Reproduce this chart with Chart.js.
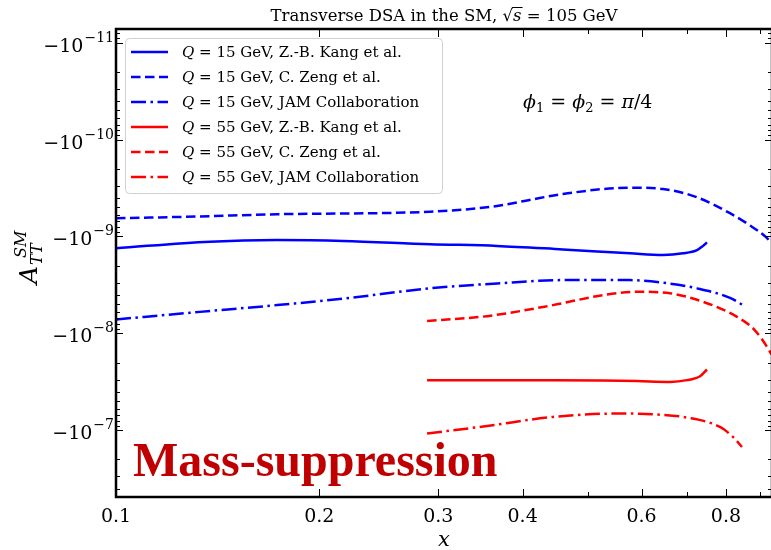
<!DOCTYPE html>
<html>
<head>
<meta charset="utf-8">
<script src="https://cdn.jsdelivr.net/npm/chart.js@4.4.1/dist/chart.umd.min.js"></script>
<style>
html, body { margin: 0; padding: 0; background: #fff; overflow: hidden; }
#wrap { width: 774px; height: 550px; }
</style>
</head>
<body>
<div id="wrap"><canvas id="chart" width="774" height="550"></canvas></div>
<script>
// Values (A_TT^SM is negative everywhere)
const xKang15 = [0.1, 0.1378, 0.1732, 0.2168, 0.2917, 0.3665, 0.4589, 0.5768, 0.6456, 0.6911, 0.7249, 0.7399, 0.7499];
const aKang15 = [-1.32e-9, -1.13e-9, -1.09e-9, -1.11e-9, -1.20e-9, -1.25e-9, -1.36e-9, -1.49e-9, -1.55e-9, -1.49e-9, -1.38e-9, -1.25e-9, -1.15e-9];

const xZeng15 = [0.1, 0.1331, 0.1732, 0.2917, 0.3665, 0.4097, 0.4589, 0.5768, 0.6456, 0.7249, 0.8111, 0.8662, 0.9203, 0.934];
const aZeng15 = [-6.49e-10, -6.21e-10, -5.89e-10, -5.55e-10, -4.84e-10, -4.19e-10, -3.64e-10, -3.13e-10, -3.23e-10, -3.94e-10, -5.75e-10, -7.6e-10, -1.04e-9, -1.17e-9];

const xJam15 = [0.1, 0.1331, 0.1732, 0.2168, 0.2917, 0.3665, 0.4589, 0.5768, 0.6456, 0.7249, 0.8111, 0.8479];
const aJam15 = [-7.18e-9, -6.0e-9, -5.11e-9, -4.38e-9, -3.43e-9, -3.05e-9, -2.82e-9, -2.82e-9, -3.00e-9, -3.43e-9, -4.30e-9, -5.11e-9];

const xKang55 = [0.2888, 0.3543, 0.4436, 0.5262, 0.5907, 0.6613, 0.7006, 0.7325, 0.7499];
const aKang55 = [-3.04e-8, -3.04e-8, -3.04e-8, -3.07e-8, -3.11e-8, -3.17e-8, -3.04e-8, -2.77e-8, -2.36e-8];

const xZeng55 = [0.2888, 0.3543, 0.4436, 0.5262, 0.5907, 0.6613, 0.7399, 0.8307, 0.8824, 0.9297, 0.934];
const aZeng55 = [-7.46e-9, -6.64e-9, -5.11e-9, -4.03e-9, -3.72e-9, -3.86e-9, -4.72e-9, -6.75e-9, -9.25e-9, -1.55e-8, -1.65e-8];

const xJam55 = [0.2888, 0.3543, 0.4436, 0.5575, 0.6240, 0.7006, 0.7839, 0.8191, 0.8450];
const aJam55 = [-1.081e-7, -9.04e-8, -7.29e-8, -6.72e-8, -6.84e-8, -7.40e-8, -9.25e-8, -1.17e-7, -1.49e-7];

const legendLabels = [
    'Q = 15 GeV, Z.-B. Kang et al.',
    'Q = 15 GeV, C. Zeng et al.',
    'Q = 15 GeV, JAM Collaboration',
    'Q = 55 GeV, Z.-B. Kang et al.',
    'Q = 55 GeV, C. Zeng et al.',
    'Q = 55 GeV, JAM Collaboration'
];

// tick labels
const xTickLabels = ['0.1', '0.2', '0.3', '0.4', '0.6', '0.8'];
const xMinorTicks = [0.5, 0.7, 0.9];
const yTickExponents = [-11, -10, -9, -8, -7];

const serif = '"DejaVu Serif", serif';
const DASH = [9.5, 4.5];
const DASHDOT = [15, 4.5, 2.5, 4.5];

// the log axis holds |A|, reversed so that larger magnitudes sit lower
function points(xs, as) {
    return xs.map((x, i) => ({ x: x, y: -as[i] }));
}

function makeSet(label, xs, as, color, dash) {
    return {
        label: label,
        data: points(xs, as),
        borderColor: color,
        borderDash: dash,
        borderWidth: 2.5,
        pointRadius: 0,
        fill: false,
        cubicInterpolationMode: 'monotone'
    };
}

// draw a run of [text, font, dy] pieces starting at x
function drawRun(ctx, pieces, x, y) {
    pieces.forEach(p => {
        ctx.font = p[1];
        ctx.fillText(p[0], x, y + (p[2] || 0));
        x += ctx.measureText(p[0]).width;
    });
    return x;
}
function runWidth(ctx, pieces) {
    let w = 0;
    pieces.forEach(p => { ctx.font = p[1]; w += ctx.measureText(p[0]).width; });
    return w;
}

const framePlugin = {
    id: 'frame',
    afterDatasetsDraw(chart) {
        const ctx = chart.ctx;
        const a = chart.chartArea;
        const xs = chart.scales.x;
        const ys = chart.scales.y;
        ctx.save();
        ctx.strokeStyle = '#000';
        ctx.fillStyle = '#000';

        // ticks, pointing inward on all four sides
        ctx.lineWidth = 1;
        const xTick = (v, len) => {
            const px = Math.round(xs.getPixelForValue(v)) + 0.5;
            ctx.beginPath();
            ctx.moveTo(px, a.bottom); ctx.lineTo(px, a.bottom - len);
            ctx.moveTo(px, a.top); ctx.lineTo(px, a.top + len);
            ctx.stroke();
        };
        xTickLabels.forEach(t => xTick(parseFloat(t), 8));
        xMinorTicks.forEach(v => xTick(v, 5));

        const yTick = (v, len) => {
            const py = Math.round(ys.getPixelForValue(v)) + 0.5;
            if (py < a.top || py > a.bottom) return;
            ctx.beginPath();
            ctx.moveTo(a.left, py); ctx.lineTo(a.left + len, py);
            ctx.moveTo(a.right, py); ctx.lineTo(a.right - len, py);
            ctx.stroke();
        };
        for (let e = -12; e <= -7; e++) {
            yTick(Math.pow(10, e), 7);
            for (let m = 2; m <= 9; m++) yTick(m * Math.pow(10, e), 4);
        }

        // spines
        ctx.lineWidth = 2.5;
        ctx.strokeRect(a.left, a.top, a.right - a.left, a.bottom - a.top);

        // x tick labels
        ctx.textAlign = 'center';
        ctx.font = '19px ' + serif;
        xTickLabels.forEach(t => {
            ctx.fillText(t, xs.getPixelForValue(parseFloat(t)), 522);
        });
        ctx.font = 'italic 21px ' + serif;
        ctx.fillText('x', (a.left + a.right) / 2, 546);

        // y tick labels, -10^n
        ctx.textAlign = 'left';
        yTickExponents.forEach(e => {
            const py = ys.getPixelForValue(Math.pow(10, e));
            const base = '\u221210';
            const sup = '\u2212' + Math.abs(e);
            ctx.font = '14px ' + serif;
            const w2 = ctx.measureText(sup).width;
            ctx.font = '19px ' + serif;
            const w1 = ctx.measureText(base).width;
            const right = 114;
            ctx.fillText(base, right - w2 - w1 - 1, py + 9);
            ctx.font = '14px ' + serif;
            ctx.fillText(sup, right - w2, py - 1);
        });

        // y axis title A_TT^SM
        ctx.save();
        ctx.translate(37, 284);
        ctx.rotate(-Math.PI / 2);
        ctx.font = 'italic 25px ' + serif;
        ctx.fillText('A', 0, 0);
        const aw = ctx.measureText('A').width;
        ctx.font = 'italic 16px ' + serif;
        ctx.fillText('TT', aw + 1, 5);
        ctx.fillText('SM', aw + 8, -11);
        ctx.restore();

        // title
        const it = 'italic 16.5px ' + serif;
        const rg = '16.5px ' + serif;
        const title = [['Transverse DSA in the SM, ', rg], ['\u221a', rg], ['s', it], [' = 105 GeV', rg]];
        const tw = runWidth(ctx, title);
        let tx = (a.left + a.right) / 2 - tw / 2;
        ctx.font = rg;
        const sx = tx + runWidth(ctx, title.slice(0, 2));
        ctx.font = it;
        const sw = ctx.measureText('s').width;
        drawRun(ctx, title, tx, 21);
        ctx.lineWidth = 1;
        ctx.beginPath();
        ctx.moveTo(sx - 1, 7.5); ctx.lineTo(sx + sw + 1, 7.5);
        ctx.stroke();

        // phi annotation
        const pi = 'italic 19px ' + serif;
        const pr = '19px ' + serif;
        const ps = '13px ' + serif;
        drawRun(ctx, [['\u03d5', pi], ['1', ps, 4], [' = ', pr], ['\u03d5', pi], ['2', ps, 4],
            [' = ', pr], ['\u03c0', pi], ['/4', pr]], 523, 108);

        // Mass-suppression label
        ctx.fillStyle = '#c00000';
        ctx.font = 'bold 48px "Liberation Serif", serif';
        ctx.fillText('Mass-suppression', 133, 476);

        // legend
        ctx.fillStyle = 'rgba(255,255,255,0.85)';
        ctx.strokeStyle = '#d0d0d0';
        ctx.lineWidth = 1;
        ctx.beginPath();
        ctx.roundRect(125.5, 38.5, 317, 155, 4);
        ctx.fill();
        ctx.stroke();
        chart.data.datasets.forEach((ds, i) => {
            const cy = 52 + i * 25;
            ctx.strokeStyle = ds.borderColor;
            ctx.lineWidth = 2.5;
            ctx.setLineDash(ds.borderDash);
            ctx.beginPath();
            ctx.moveTo(131, cy); ctx.lineTo(168, cy);
            ctx.stroke();
            ctx.setLineDash([]);
            ctx.fillStyle = '#000';
            drawRun(ctx, [['Q', 'italic 15px ' + serif], [ds.label.slice(1), '15px ' + serif]], 182, cy + 5);
        });
        ctx.restore();
    }
};

const ctx = document.getElementById('chart').getContext('2d');
new Chart(ctx, {
    type: 'line',
    data: {
        datasets: [
            makeSet(legendLabels[0], xKang15, aKang15, '#0000ff', []),
            makeSet(legendLabels[1], xZeng15, aZeng15, '#0000ff', DASH),
            makeSet(legendLabels[2], xJam15, aJam15, '#0000ff', DASHDOT),
            makeSet(legendLabels[3], xKang55, aKang55, '#ff0000', []),
            makeSet(legendLabels[4], xZeng55, aZeng55, '#ff0000', DASH),
            makeSet(legendLabels[5], xJam55, aJam55, '#ff0000', DASHDOT)
        ]
    },
    options: {
        responsive: false,
        animation: false,
        devicePixelRatio: 1,
        layout: { padding: { left: 116, top: 29, right: 2, bottom: 53 } },
        scales: {
            x: { type: 'logarithmic', min: 0.1, max: 0.936, display: false },
            y: { type: 'logarithmic', min: 7.21e-12, max: 4.89e-7, reverse: true, display: false }
        },
        plugins: {
            legend: { display: false },
            tooltip: { enabled: false }
        }
    },
    plugins: [framePlugin]
});
</script>
</body>
</html>
